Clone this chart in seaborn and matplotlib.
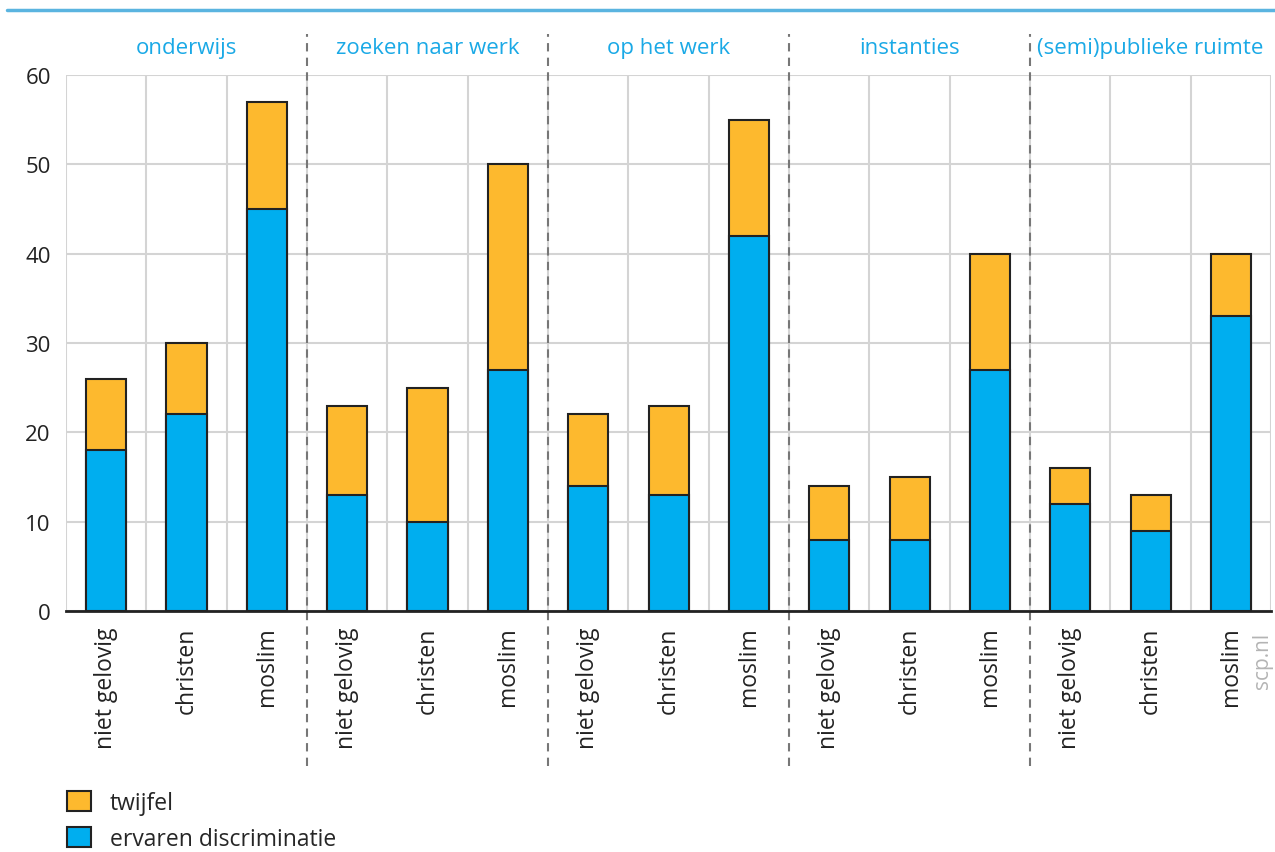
import seaborn as sns
import matplotlib.pyplot as plt
import matplotlib.patches as mpatches
import pandas as pd

groups = ["onderwijs", "zoeken naar werk", "op het werk", "instanties", "(semi)publieke ruimte"]
religions = ["niet gelovig", "christen", "moslim"]
# ervaren discriminatie (blue) and total incl. twijfel (top of orange), per group x religion
ervaren = [18, 22, 45, 13, 10, 27, 14, 13, 42, 8, 8, 27, 12, 9, 33]
totaal = [26, 30, 57, 23, 25, 50, 22, 23, 55, 14, 15, 40, 16, 13, 40]

blue = "#00aeef"
orange = "#fdb92e"
title_blue = "#1aa9e6"

rows = []
for i, g in enumerate(groups):
    for j, r in enumerate(religions):
        k = i * 3 + j
        rows.append({"slot": f"{g}|{r}", "religion": r, "ervaren": ervaren[k], "totaal": totaal[k]})
df = pd.DataFrame(rows)
order = list(df["slot"])

sns.set_style("white")
plt.rcParams["font.family"] = ["Open Sans", "DejaVu Sans"]

fig = plt.figure(figsize=(12.75, 8.53), dpi=100)
ax = fig.add_axes([0.0518, 0.2825, 0.9452, 0.6284])

sns.barplot(data=df, x="slot", y="totaal", order=order, color=orange, width=0.5,
            edgecolor="#222222", linewidth=1.5, saturation=1, ax=ax)
sns.barplot(data=df, x="slot", y="ervaren", order=order, color=blue, width=0.5,
            edgecolor="#222222", linewidth=1.5, saturation=1, ax=ax)

ax.set_xlim(-0.5, 14.5)
ax.set_ylim(0, 60)
ax.set_yticks(range(0, 61, 10))
ax.set_xticks(range(15))
ax.set_xticklabels(df["religion"], rotation=90, fontsize=16.5, color="#222222")
ax.tick_params(axis="y", length=0, labelsize=16, pad=11, colors="#222222")
ax.tick_params(axis="x", length=6, width=1.5, color="#222222", pad=5)
ax.set_xticks([x - 0.5 for x in range(16)], minor=True)
ax.tick_params(axis="x", which="minor", length=0)
ax.grid(axis="y", which="major", color="#d4d4d4", linewidth=1.5)
ax.grid(axis="x", which="minor", color="#d4d4d4", linewidth=1.5)
ax.set_axisbelow(True)
ax.set_xlabel("")
ax.set_ylabel("")
for s in ["left", "right", "top"]:
    ax.spines[s].set_visible(False)
ax.spines["bottom"].set_color("#222222")
ax.spines["bottom"].set_linewidth(2)
ax.spines["bottom"].set_zorder(5)

# group separators and titles
for b in [2.5, 5.5, 8.5, 11.5]:
    ax.axvline(b, ymin=-0.29, ymax=1.076, clip_on=False, color="#777777",
               linestyle=(0, (4, 3)), linewidth=1.5, zorder=4)
for i, g in enumerate(groups):
    ax.text(i * 3 + 1, 1.052, g, transform=ax.get_xaxis_transform(), ha="center",
            va="center", fontsize=16, color=title_blue)

# top rule
fig.add_artist(plt.Line2D([7 / 1275, 1.0], [1 - 11 / 853, 1 - 11 / 853],
                          color="#5ab4e0", linewidth=2.5))

fig.text(1263 / 1275, 1 - 661 / 853, "scp.nl", rotation=90, ha="center", va="center",
         fontsize=15, color="#b4b4b4")

handles = [mpatches.Patch(facecolor=orange, edgecolor="#222222", linewidth=1.5, label="twijfel"),
           mpatches.Patch(facecolor=blue, edgecolor="#222222", linewidth=1.5, label="ervaren discriminatie")]
fig.legend(handles=handles, loc="upper left", bbox_to_anchor=(58 / 1275, 1 - 783 / 853),
           frameon=False, fontsize=16.5, handlelength=1.05, handleheight=0.95,
           labelspacing=0.5, handletextpad=0.8, borderaxespad=0)

plt.savefig("out.png", dpi=100)
